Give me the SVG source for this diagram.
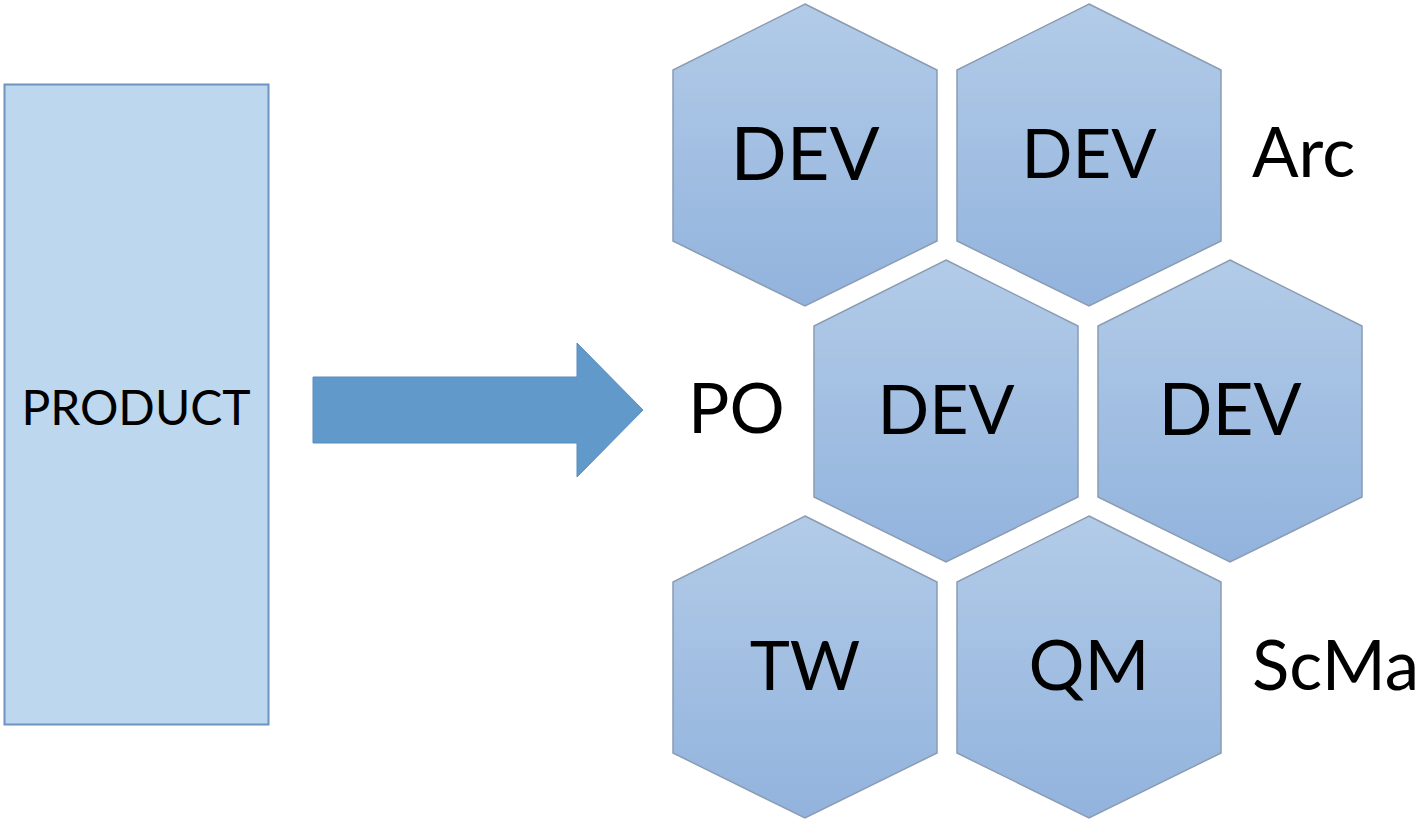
<svg xmlns="http://www.w3.org/2000/svg" width="1425" height="822" viewBox="0 0 1425 822">
<defs>
<linearGradient id="hexg" x1="0" y1="0" x2="0" y2="1">
<stop offset="0" stop-color="#b2cbe8"/>
<stop offset="1" stop-color="#92b3dd"/>
</linearGradient>
<polygon id="hex" points="0,-151 132,-85 132,86 0,151 -132,86 -132,-85"/>
</defs>
<style>
.hex{fill:url(#hexg);stroke:#8b9cb2;stroke-width:1.5}
.t{font-family:Lato,"Liberation Sans",sans-serif;fill:#000;text-anchor:middle}
.lbl{font-family:Lato,"Liberation Sans",sans-serif;fill:#000;font-size:69px}
</style>
<rect width="1425" height="822" fill="#fff"/>
<g id="product">
<rect x="4.5" y="84.5" width="264" height="640" fill="#bdd7ee" stroke="#6f93bf" stroke-width="2"/>
<text class="t" x="136" y="425" font-size="48">PRODUCT</text>
</g>
<g id="connectors">
<polygon points="313,377 577,377 577,343 643,410 577,477 577,443 313,443" fill="#6199cb" stroke="#5a8cbd" stroke-width="1"/>
</g>
<g id="hex1" transform="translate(805,155)"><use href="#hex" class="hex"/><text class="t" x="0" y="25" font-size="74">DEV</text></g>
<g id="hex2" transform="translate(1089,155)"><use href="#hex" class="hex"/><text class="t" x="0" y="23" font-size="67">DEV</text></g>
<g id="hex3" transform="translate(946,411)"><use href="#hex" class="hex"/><text class="t" x="0" y="23" font-size="68">DEV</text></g>
<g id="hex4" transform="translate(1230,411)"><use href="#hex" class="hex"/><text class="t" x="0" y="24" font-size="71">DEV</text></g>
<g id="hex5" transform="translate(805,667)"><use href="#hex" class="hex"/><text class="t" x="0" y="23" font-size="68">TW</text></g>
<g id="hex6" transform="translate(1089,667)"><use href="#hex" class="hex"/><text class="t" x="0" y="23" font-size="70">QM</text></g>
<g id="labels">
<text class="lbl" x="1252" y="177">Arc</text>
<text class="lbl" x="688" y="433" font-size="62">PO</text>
<text class="lbl" x="1252" y="690">ScMa</text>
</g>
</svg>
